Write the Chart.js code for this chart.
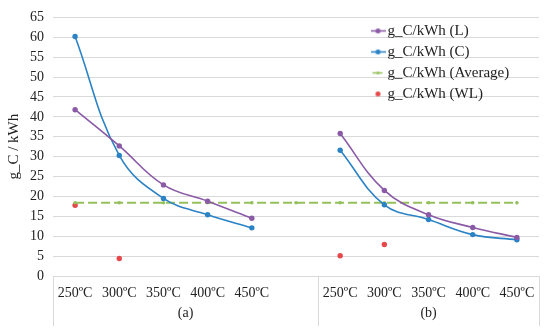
<!DOCTYPE html>
<html>
<head>
<meta charset="utf-8">
<script src="https://cdn.jsdelivr.net/npm/chart.js@4/dist/chart.umd.min.js"></script>
<style>
  html, body { margin: 0; padding: 0; background: #fff; }
  #wrap { width: 550px; height: 330px; }
</style>
</head>
<body>
<div id="wrap"><canvas id="chart"></canvas></div>
<script>
// Categories: two groups of temperatures, with an empty slot closing group (a)
const categories = ['250ºC', '300ºC', '350ºC', '400ºC', '450ºC', '', '250ºC', '300ºC', '350ºC', '400ºC', '450ºC'];
const groupLabels = ['(a)', '(b)'];
const groupSizes = [6, 5];

// Series values
const lValues = [41.8, 32.7, 22.9, 18.8, 14.5, null, 35.8, 21.5, 15.4, 12.2, 9.7];
const cValues = [60.2, 30.3, 19.5, 15.4, 12.1, null, 31.6, 17.9, 14.2, 10.4, 9.1];
const avgValues = [18.4, 18.4, 18.4, 18.4, 18.4, 18.4, 18.4, 18.4, 18.4, 18.4, 18.4];
const wlValues = [17.8, 4.4, null, null, null, null, 5.1, 7.9, null, null, null];

const seriesNames = ['g_C/kWh (L)', 'g_C/kWh (C)', 'g_C/kWh (Average)', 'g_C/kWh (WL)'];
const yMin = 0, yMax = 65, yStep = 5;

const purple = '#8A5AA6';
const blue = '#2B83C6';
const green = '#94C05C';
const red = '#E6474A';
const gridColor = '#D9D9D9';
const textColor = '#222222';
const serif = '"Liberation Serif", "Times New Roman", serif';

// Small legend symbols (line + marker like the spreadsheet legend)
function legendSymbol(color, line, dot, x0, x1) {
    const c = document.createElement('canvas');
    c.width = 15;
    c.height = 7;
    const g = c.getContext('2d');
    if (line) {
        g.strokeStyle = color;
        g.lineWidth = 1.5;
        g.beginPath();
        g.moveTo(x0, 3.5);
        g.lineTo(x1, 3.5);
        g.stroke();
    }
    if (dot) {
        g.fillStyle = color;
        g.beginPath();
        g.arc(7.5, 3.5, dot, 0, Math.PI * 2);
        g.fill();
    }
    return c;
}
const legendSymbols = [
    legendSymbol(purple, true, 2.5, 0, 15),
    legendSymbol(blue, true, 2.5, 0, 15),
    legendSymbol(green, true, 1.5, 2, 12),
    legendSymbol(red, false, 2.5, 0, 0),
];

// Draws the boxed two-level category axis
const categoryBox = {
    id: 'categoryBox',
    afterDraw(chart) {
        const x = chart.scales.x;
        const ctx = chart.ctx;
        const half = (x.getPixelForValue(1) - x.getPixelForValue(0)) / 2;
        const edges = [x.left];
        let idx = 0;
        groupSizes.forEach(n => {
            idx += n;
            edges.push(idx >= categories.length ? x.right : x.getPixelForValue(idx - 1) + half);
        });
        ctx.save();
        ctx.strokeStyle = gridColor;
        ctx.lineWidth = 1;
        edges.forEach(px => {
            const p = Math.round(px) + 0.5;
            ctx.beginPath();
            ctx.moveTo(p, x.top);
            ctx.lineTo(p, chart.height - 4);
            ctx.stroke();
        });
        ctx.font = '14px ' + serif;
        ctx.fillStyle = textColor;
        ctx.textAlign = 'center';
        ctx.textBaseline = 'middle';
        groupLabels.forEach((lbl, i) => {
            ctx.fillText(lbl, (edges[i] + edges[i + 1]) / 2, x.top + 37);
        });
        ctx.restore();
    },
};

// Move the legend to the upper right inside the plot
const legendSpot = {
    id: 'legendSpot',
    afterLayout(chart) {
        const lg = chart.legend;
        lg.left = chart.chartArea.left + 317;
        lg.right = lg.left + lg.width;
        lg.top = chart.chartArea.top;
        lg.bottom = lg.top + lg.height;
    },
};

const ctx = document.getElementById('chart').getContext('2d');
new Chart(ctx, {
    type: 'line',
    data: {
        labels: categories,
        datasets: [
            {
                label: seriesNames[0],
                data: lValues,
                borderColor: purple,
                backgroundColor: purple,
                borderWidth: 1.6,
                pointRadius: 2.7,
                pointBorderWidth: 0,
                tension: 0.4,
                spanGaps: false,
            },
            {
                label: seriesNames[1],
                data: cValues,
                borderColor: blue,
                backgroundColor: blue,
                borderWidth: 1.6,
                pointRadius: 2.7,
                pointBorderWidth: 0,
                tension: 0.4,
                spanGaps: false,
            },
            {
                label: seriesNames[2],
                data: avgValues,
                borderColor: green,
                backgroundColor: green,
                borderWidth: 2,
                borderDash: [9, 4],
                pointRadius: 1.8,
                pointBorderWidth: 0,
                tension: 0,
            },
            {
                label: seriesNames[3],
                data: wlValues,
                borderColor: red,
                backgroundColor: red,
                showLine: false,
                pointRadius: 2.7,
                pointBorderWidth: 0,
            },
        ],
    },
    options: {
        responsive: true,
        maintainAspectRatio: false,
        animation: false,
        layout: {
            padding: { top: 15, right: 11, bottom: 0, left: 0 },
        },
        scales: {
            x: {
                offset: true,
                grid: { display: false, drawTicks: false },
                border: { display: false },
                ticks: {
                    color: textColor,
                    font: { family: serif, size: 14 },
                    padding: 9,
                    maxRotation: 0,
                    autoSkip: false,
                },
                afterFit(scale) { scale.height = 54; },
            },
            y: {
                min: yMin,
                max: yMax,
                grid: { color: gridColor, drawTicks: false },
                border: { display: false },
                ticks: {
                    stepSize: yStep,
                    color: textColor,
                    font: { family: serif, size: 14 },
                    padding: 9,
                },
                title: {
                    display: true,
                    text: 'g_C / kWh',
                    color: textColor,
                    font: { family: serif, size: 15 },
                    padding: { top: 5, bottom: 0 },
                },
                afterFit(scale) { scale.width = 53; },
            },
        },
        plugins: {
            tooltip: { enabled: false },
            legend: {
                position: 'chartArea',
                align: 'start',
                labels: {
                    color: textColor,
                    font: { family: serif, size: 15 },
                    usePointStyle: true,
                    pointStyleWidth: 4,
                    padding: 6,
                    generateLabels(chart) {
                        const items = Chart.defaults.plugins.legend.labels.generateLabels(chart);
                        items.forEach((it, i) => { it.pointStyle = legendSymbols[i]; });
                        return items;
                    },
                },
            },
        },
    },
    plugins: [categoryBox, legendSpot],
});
</script>
</body>
</html>
